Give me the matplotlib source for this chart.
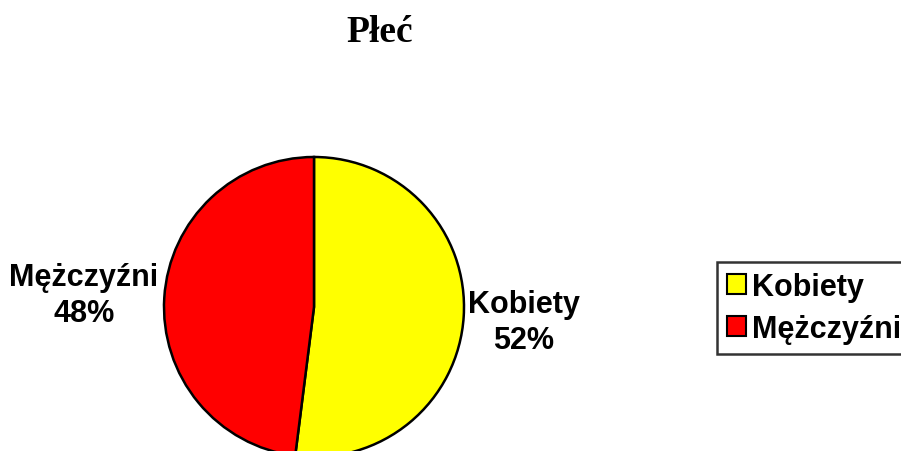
import matplotlib
matplotlib.use("Agg")
import matplotlib.pyplot as plt

categories = ["Kobiety", "Mężczyźni"]
values = [52, 48]
colors = ["#FFFF00", "#FF0000"]
title = "Płeć"

W, H = 901, 452
fig = plt.figure(figsize=(W / 100, H / 100), dpi=100)
ax = fig.add_axes([0, 0, 1, 1])

wedges, _ = ax.pie(values, colors=colors, startangle=90, counterclock=False,
                   center=(314, H - 308), radius=150,
                   wedgeprops=dict(edgecolor="black", linewidth=1.8))
ax.set_xlim(0, W)
ax.set_ylim(0, H)
ax.set_aspect("equal")
ax.axis("off")

lab_font = dict(family=["Liberation Sans", "DejaVu Sans"], weight="bold", fontsize=22)
ax.text(524, H - 323, f"{categories[0]}\n{values[0]}%", ha="center", va="center",
        linespacing=1.3, **lab_font)
ax.text(84, H - 296, f"{categories[1]}\n{values[1]}%", ha="center", va="center",
        linespacing=1.3, **lab_font)

fig.text(380 / W, 1 - 33 / H, title, ha="center", va="center",
         family=["Liberation Serif", "DejaVu Serif"], weight="bold", fontsize=27)

leg = ax.legend(wedges, categories, loc="upper left",
                bbox_to_anchor=(717 / W, 1 - 263 / H), bbox_transform=fig.transFigure,
                borderaxespad=0, frameon=True, fancybox=False,
                prop=dict(family=["Liberation Sans", "DejaVu Sans"], weight="bold", size=22),
                handlelength=0.62, handleheight=0.62, handletextpad=0.18,
                borderpad=0.33, labelspacing=0.38)
leg.get_frame().set_edgecolor("black")
leg.get_frame().set_linewidth(1.8)
for h in leg.legend_handles:
    h.set_linewidth(1.5)

fig.savefig("out.png", dpi=100)
